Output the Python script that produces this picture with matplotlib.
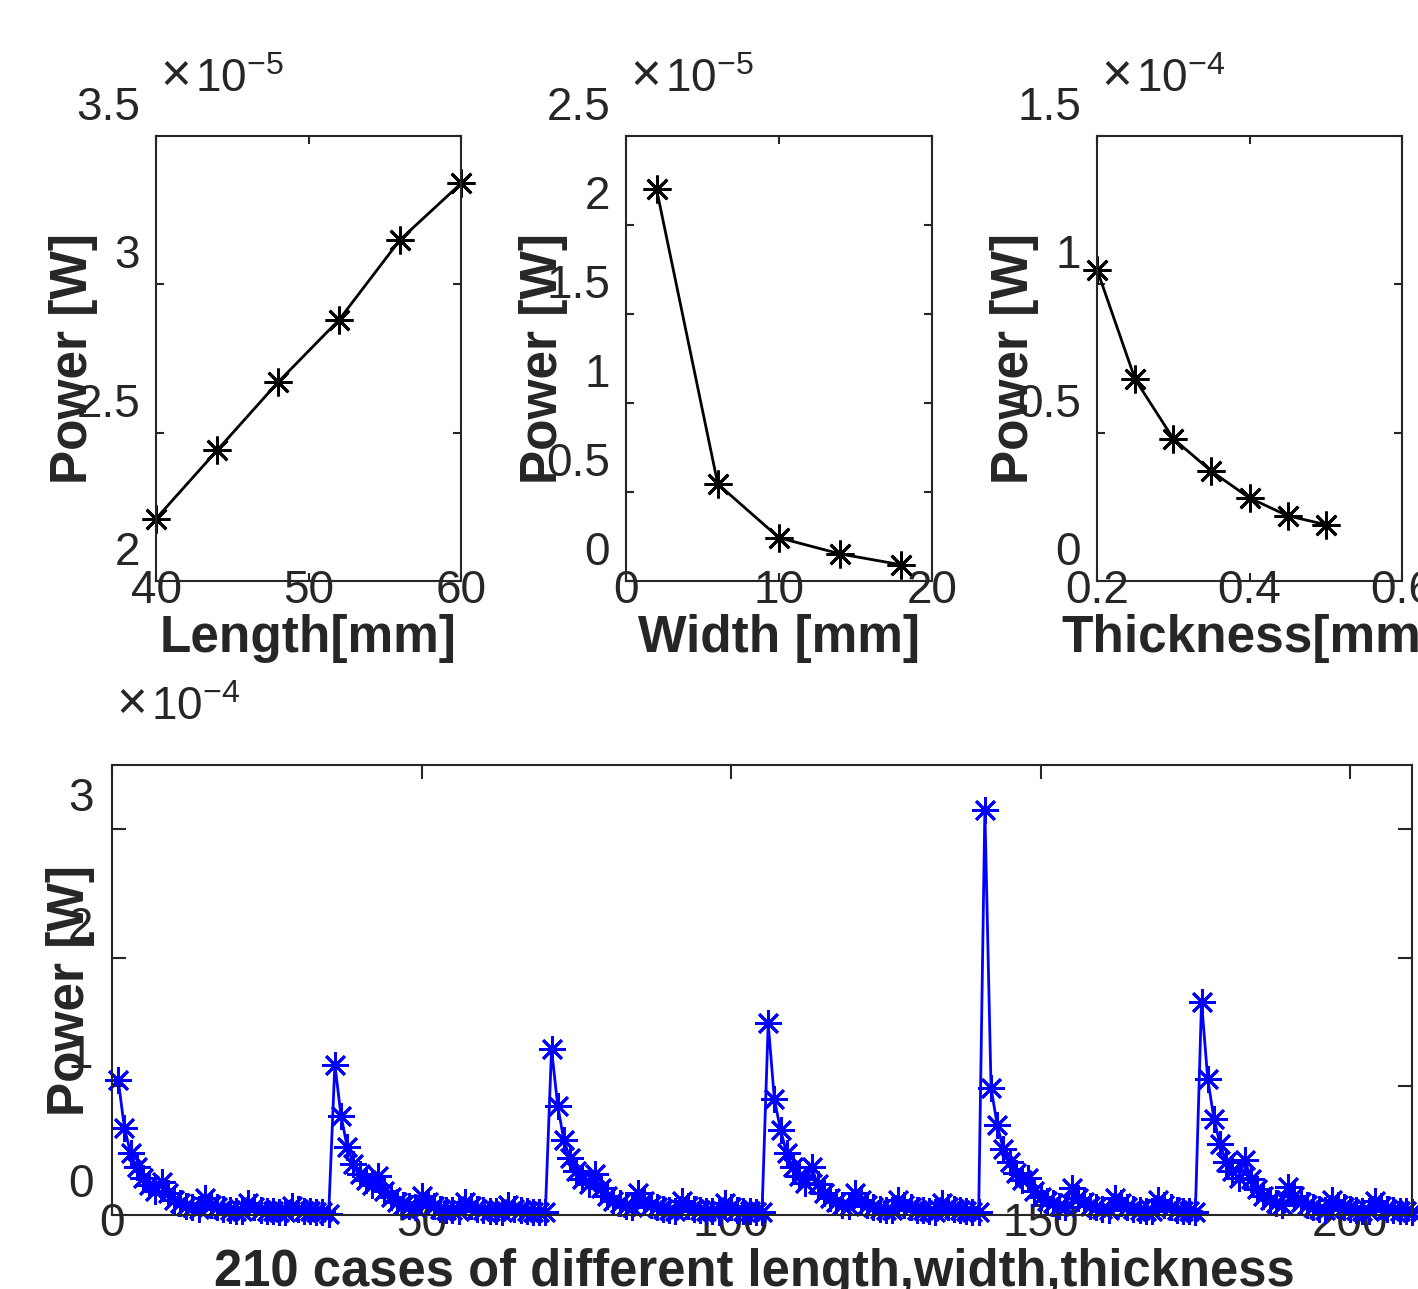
import matplotlib
matplotlib.use("Agg")
import matplotlib.pyplot as plt
from matplotlib.ticker import FuncFormatter
from matplotlib.transforms import ScaledTranslation

plt.rcParams["font.family"] = ["Liberation Sans", "DejaVu Sans"]
plt.rcParams["mathtext.fontset"] = "custom"
plt.rcParams["mathtext.rm"] = "Liberation Sans"

TEXT = "#262626"

# top row: single-parameter sweeps (power in units of the multiplier)
length_mm = [40, 44, 48, 52, 56, 60]
power_length = [2.21, 2.44, 2.67, 2.88, 3.15, 3.34]   # x1e-5 W
width_mm = [2, 6, 10, 14, 18]
power_width = [2.20, 0.545, 0.243, 0.152, 0.091]      # x1e-5 W
thick_mm = [0.2, 0.25, 0.3, 0.35, 0.4, 0.45, 0.5]
power_thick = [1.05, 0.68, 0.48, 0.37, 0.28, 0.22, 0.19]  # x1e-4 W

# bottom: 210 cases, read block by block (x1e-4 W)
block1 = [1.05, 0.68, 0.48, 0.37, 0.29, 0.23, 0.19,
          0.26, 0.17, 0.12, 0.09, 0.07, 0.06, 0.05,
          0.13, 0.08, 0.06, 0.05, 0.04, 0.03, 0.03,
          0.09, 0.06, 0.04, 0.03, 0.03, 0.02, 0.02,
          0.07, 0.05, 0.03, 0.03, 0.02, 0.02, 0.01]
block2 = [1.17, 0.77, 0.53, 0.40, 0.32, 0.27, 0.23,
          0.30, 0.19, 0.14, 0.10, 0.08, 0.07, 0.06,
          0.15, 0.10, 0.07, 0.05, 0.04, 0.04, 0.03,
          0.10, 0.07, 0.05, 0.04, 0.03, 0.03, 0.02,
          0.08, 0.05, 0.04, 0.03, 0.02, 0.02, 0.02]
block3 = [1.29, 0.85, 0.58, 0.44, 0.34, 0.28, 0.24,
          0.32, 0.21, 0.15, 0.11, 0.09, 0.07, 0.06,
          0.17, 0.11, 0.08, 0.06, 0.05, 0.04, 0.03,
          0.11, 0.07, 0.05, 0.04, 0.03, 0.03, 0.02,
          0.09, 0.06, 0.04, 0.03, 0.03, 0.02, 0.02]
block4 = [1.49, 0.90, 0.66, 0.48, 0.37, 0.30, 0.25,
          0.37, 0.24, 0.17, 0.13, 0.10, 0.08, 0.07,
          0.17, 0.12, 0.08, 0.06, 0.05, 0.04, 0.04,
          0.12, 0.08, 0.06, 0.04, 0.04, 0.03, 0.02,
          0.09, 0.06, 0.05, 0.04, 0.03, 0.02, 0.02]
block5 = [3.15, 0.99, 0.70, 0.51, 0.41, 0.33, 0.27,
          0.29, 0.19, 0.14, 0.11, 0.09, 0.07, 0.06,
          0.21, 0.13, 0.10, 0.07, 0.06, 0.05, 0.04,
          0.13, 0.09, 0.06, 0.05, 0.04, 0.03, 0.03,
          0.12, 0.08, 0.06, 0.04, 0.03, 0.03, 0.02]
block6 = [1.66, 1.06, 0.75, 0.55, 0.41, 0.34, 0.29,
          0.43, 0.28, 0.20, 0.15, 0.12, 0.09, 0.08,
          0.22, 0.15, 0.10, 0.08, 0.06, 0.05, 0.04,
          0.12, 0.08, 0.06, 0.05, 0.04, 0.03, 0.03,
          0.11, 0.07, 0.05, 0.04, 0.03, 0.03, 0.02]
case_power = block1 + block2 + block3 + block4 + block5 + block6
case_idx = list(range(1, len(case_power) + 1))

W, H = 1418, 1289
DPI = 100


def fmt(v, pos):
    return f"{v:g}"


def style_axes(ax, ticklen, ypad):
    for sp in ax.spines.values():
        sp.set_color(TEXT)
        sp.set_linewidth(1.5)
    ax.tick_params(direction="in", top=True, right=True, length=ticklen, width=1.5,
                   colors=TEXT, labelsize=33)
    ax.tick_params(axis="y", pad=ypad)
    ax.tick_params(axis="x", pad=-9)
    ax.xaxis.set_major_formatter(FuncFormatter(fmt))
    ax.yaxis.set_major_formatter(FuncFormatter(fmt))


def shift_yticklabels(ax, dy_px):
    # labels sit above their ticks, like the exported figure
    fig = ax.figure
    off = ScaledTranslation(0, dy_px / fig.dpi, fig.dpi_scale_trans)
    for t in ax.yaxis.get_major_ticks():
        t.label1.set_transform(t.label1.get_transform() + off)


def add_multiplier(ax, x, y, exp):
    ax.text(x, y, "\u00d7", transform=ax.transAxes, fontsize=38, color=TEXT,
            va="baseline", ha="left", fontweight="light")
    ax.annotate(r"$\mathregular{10^{%s}}$" % exp, xy=(x, y), xycoords="axes fraction",
                xytext=(25, 0), textcoords="offset points", fontsize=33, color=TEXT,
                va="baseline", ha="left")


def px_axes(fig, left, top, right, bottom):
    return fig.add_axes([left / W, 1 - bottom / H, (right - left) / W, (bottom - top) / H])


fig = plt.figure(figsize=(W / DPI, H / DPI), dpi=DPI)

marker = (8, 2, 0)
top_panels = [
    (156, 461, length_mm, power_length, (40, 60), [40, 50, 60], (2, 3.5), [2, 2.5, 3, 3.5],
     "Length[mm]", "-5"),
    (626, 932, width_mm, power_width, (0, 20), [0, 10, 20], (0, 2.5), [0, 0.5, 1, 1.5, 2, 2.5],
     "Width [mm]", "-5"),
    (1097, 1402, thick_mm, power_thick, (0.2, 0.6), [0.2, 0.4, 0.6], (0, 1.5), [0, 0.5, 1, 1.5],
     "Thickness[mm]", "-4"),
]

for left, right, xs, ys, xl, xt, yl, yt, xlab, exp in top_panels:
    ax = px_axes(fig, left, 136, right, 581)
    ax.plot(xs, ys, color="black", lw=2, marker=marker, ms=20, mew=2, clip_on=False)
    ax.set_xlim(*xl)
    ax.set_xticks(xt)
    ax.set_ylim(*yl)
    ax.set_yticks(yt)
    style_axes(ax, 6, 11.5)
    ax.set_xlabel(xlab, fontsize=37, fontweight="bold", color=TEXT)
    ax.set_ylabel("Power [W]", fontsize=37, fontweight="bold", color=TEXT)
    wpx = right - left
    ax.xaxis.set_label_coords(0.5, -33 / 445)
    ax.xaxis.label.set_va("top")
    ax.yaxis.set_label_coords(-58 / wpx, 0.5)
    add_multiplier(ax, 4 / wpx, 1 + 44 / 445, exp)
    shift_yticklabels(ax, 33)

# bottom panel: all 210 cases
ax = px_axes(fig, 112, 765, 1412, 1215)
ax.plot(case_idx, case_power, color="blue", lw=2, marker=marker, ms=19, mew=2, clip_on=False)
ax.set_xlim(0, 210)
ax.set_xticks([0, 50, 100, 150, 200])
ax.set_ylim(0, 3.5)
ax.set_yticks([0, 1, 2, 3])
style_axes(ax, 10, 13.5)
ax.set_xlabel("210 cases of different length,width,thickness", fontsize=36.5,
              fontweight="bold", color=TEXT)
ax.set_ylabel("Power [W]", fontsize=37, fontweight="bold", color=TEXT)
ax.xaxis.set_label_coords(642 / 1300, -33 / 450)
ax.xaxis.label.set_va("top")
ax.yaxis.set_label_coords(-17 / 1300, 0.5)
add_multiplier(ax, 4 / 1300, 1 + 45 / 450, "-4")
shift_yticklabels(ax, 35)

fig.savefig("out.png", dpi=DPI)
